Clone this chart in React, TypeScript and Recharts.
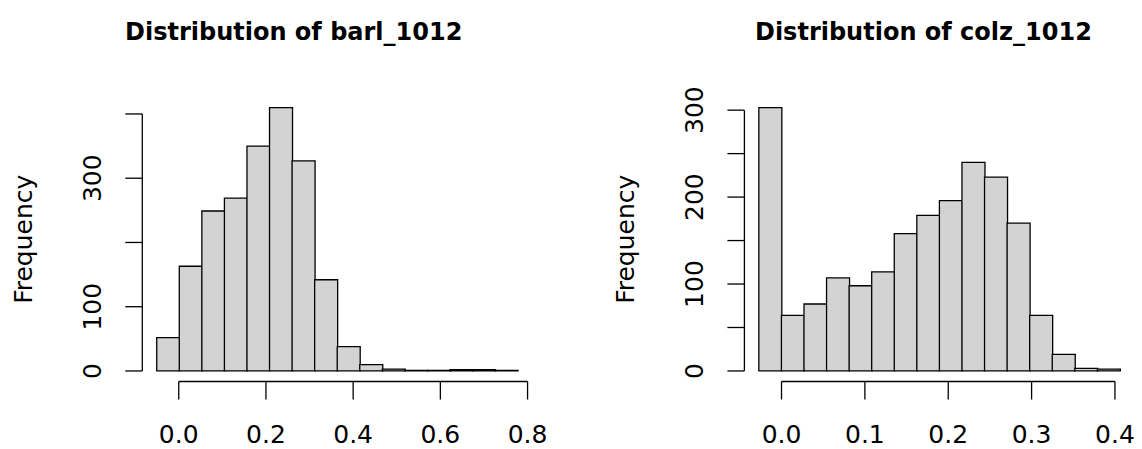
import { BarChart, Bar, XAxis, YAxis, ReferenceLine, Label } from 'recharts'

// histogram counts
const barlCounts = [52, 163, 249, 269, 350, 410, 327, 142, 38, 10, 3, 1, 1, 2, 2, 1]
const colzCounts = [303, 64, 77, 107, 98, 114, 158, 179, 196, 240, 223, 170, 64, 19, 3, 2]

// first and last break of each histogram (16 equal bins)
const barlBreaks = [-0.0505, 0.7773]
const colzBreaks = [-0.0272, 0.406]

const barlXTicks = [0, 0.2, 0.4, 0.6, 0.8]
const colzXTicks = [0, 0.1, 0.2, 0.3, 0.4]
const barlYTicks = [0, 100, 200, 300, 400]
const barlYLabels = [0, 100, 300]
const colzYTicks = [0, 50, 100, 150, 200, 250, 300]
const colzYLabels = [0, 100, 200, 300]

const FONT = 'DejaVu Sans'
const AXIS_W = 60
const AXIS_H = 30
const LW = 1.3

function toBins(counts: number[], breaks: number[]) {
  const step = (breaks[1] - breaks[0]) / counts.length
  return counts.map((count, i) => ({ mid: breaks[0] + (i + 0.5) * step, count }))
}

// R pads both axis ranges by 4%
function pad(lo: number, hi: number) {
  const d = (hi - lo) * 0.04
  return [lo - d, hi + d]
}

function XTick(props: any) {
  const { x, y, payload } = props
  return (
    <text x={x} y={y + 43.5} textAnchor="middle" fontFamily={FONT} fontSize={25} fill="#000">
      {payload.value.toFixed(1)}
    </text>
  )
}

function makeYTick(labels: number[]) {
  return function YTick(props: any) {
    const { x, y, payload } = props
    if (!labels.includes(payload.value)) return <g />
    return (
      <text
        transform={`translate(${x - 24},${y}) rotate(-90)`}
        textAnchor="middle"
        fontFamily={FONT}
        fontSize={25}
        fill="#000"
      >
        {payload.value}
      </text>
    )
  }
}

function FreqLabel(props: any) {
  const { x, y, width, height } = props.viewBox
  return (
    <text
      transform={`translate(${x + width - 110},${y + height / 2}) rotate(-90)`}
      textAnchor="middle"
      fontFamily={FONT}
      fontSize={25}
      fill="#000"
    >
      Frequency
    </text>
  )
}

type PanelProps = {
  counts: number[]
  breaks: number[]
  xTicks: number[]
  yTicks: number[]
  yLabels: number[]
  left: number
  margin: { top: number; right: number; bottom: number; left: number }
}

function Histogram({ counts, breaks, xTicks, yTicks, yLabels, left, margin }: PanelProps) {
  const data = toBins(counts, breaks)
  const xDomain = pad(breaks[0], breaks[1])
  const yDomain = pad(0, Math.max(...counts))
  const xEnd = xTicks[xTicks.length - 1]
  const yEnd = yTicks[yTicks.length - 1]

  return (
    <div style={{ position: 'absolute', left, top: 0 }}>
      <BarChart width={571} height={449} data={data} margin={margin} barCategoryGap={0} barGap={0}>
        <XAxis
          type="number"
          dataKey="mid"
          domain={xDomain}
          allowDataOverflow
          ticks={xTicks}
          interval={0}
          height={AXIS_H}
          axisLine={false}
          tickLine={{ stroke: '#000', strokeWidth: LW }}
          tickSize={18}
          tickMargin={0}
          tick={<XTick />}
        />
        <YAxis
          type="number"
          domain={yDomain}
          allowDataOverflow
          ticks={yTicks}
          interval={0}
          width={AXIS_W}
          axisLine={false}
          tickLine={{ stroke: '#000', strokeWidth: LW }}
          tickSize={17}
          tickMargin={0}
          tick={makeYTick(yLabels)}
        >
          <Label content={FreqLabel} />
        </YAxis>
        <ReferenceLine
          segment={[{ x: xTicks[0], y: yDomain[0] }, { x: xEnd, y: yDomain[0] }]}
          stroke="#000"
          strokeWidth={LW}
          ifOverflow="visible"
        />
        <ReferenceLine
          segment={[{ x: xDomain[0], y: 0 }, { x: xDomain[0], y: yEnd }]}
          stroke="#000"
          strokeWidth={LW}
          ifOverflow="visible"
        />
        <Bar dataKey="count" fill="#d3d3d3" stroke="#000" strokeWidth={LW} isAnimationActive={false} />
      </BarChart>
    </div>
  )
}

export default function App() {
  return (
    <div style={{ position: 'absolute', left: 0, top: 0, width: 1142, height: 449, background: '#fff' }}>
      <Histogram
        counts={barlCounts}
        breaks={barlBreaks}
        xTicks={barlXTicks}
        yTicks={barlYTicks}
        yLabels={barlYLabels}
        left={0}
        margin={{ top: 97, right: 38.9, bottom: 67.5 - AXIS_H, left: 142.3 - AXIS_W }}
      />
      <Histogram
        counts={colzCounts}
        breaks={colzBreaks}
        xTicks={colzXTicks}
        yTicks={colzYTicks}
        yLabels={colzYLabels}
        left={571}
        margin={{ top: 97, right: 7.6, bottom: 67.5 - AXIS_H, left: 173.4 - AXIS_W }}
      />
      <svg width={1142} height={449} style={{ position: 'absolute', left: 0, top: 0, pointerEvents: 'none' }}>
        <text x={293.7} y={40} textAnchor="middle" fontFamily={FONT} fontWeight="bold" fontSize={24}>
          Distribution of barl_1012
        </text>
        <text x={923.4} y={40} textAnchor="middle" fontFamily={FONT} fontWeight="bold" fontSize={24}>
          Distribution of colz_1012
        </text>
      </svg>
    </div>
  )
}
